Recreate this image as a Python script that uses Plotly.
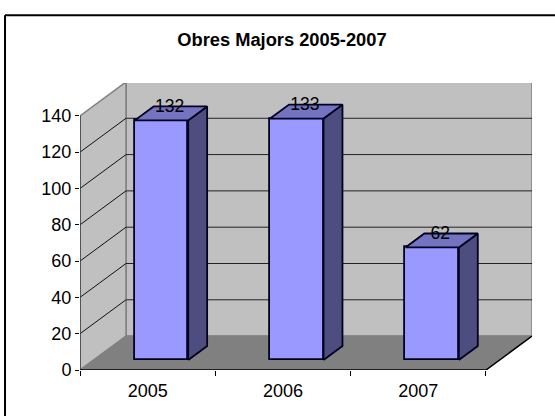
import plotly.graph_objects as go

title = "Obres Majors 2005-2007"
categories = ["2005", "2006", "2007"]
values = [132, 133, 62]
y_ticks = [0, 20, 40, 60, 80, 100, 120, 140]

FONT = "Liberation Sans"
FRONT, TOP, SIDE = "#9999FF", "#7373BF", "#4D4D80"
WALL, FLOOR, EDGE = "#C0C0C0", "#808080", "#808080"

# chart geometry in data units
DX, DY = 0.34, 18.67        # depth of the floor
BOX, BOY = 0.102, 5.5       # where the bar's front sits inside the depth
SX, SY = 0.14, 7.7          # depth of a bar
WIDTH = 0.395
XL, XR = -0.5, 2.5
YMAX = max(y_ticks)
idx = list(range(len(categories)))


def poly(pts):
    return "M" + " L".join(f"{x},{y}" for x, y in pts) + " Z"


shapes = [
    # back wall, side wall, floor
    dict(type="path", path=poly([(XL + DX, DY), (XR + DX, DY), (XR + DX, YMAX + DY), (XL + DX, YMAX + DY)]),
         fillcolor=WALL, line=dict(color=EDGE, width=1.5), layer="below", xref="x", yref="y"),
    dict(type="path", path=poly([(XL, 0), (XL + DX, DY), (XL + DX, YMAX + DY), (XL, YMAX)]),
         fillcolor=WALL, line=dict(color=EDGE, width=1.5), layer="below", xref="x", yref="y"),
    dict(type="path", path=poly([(XL, 0), (XR, 0), (XR + DX, DY), (XL + DX, DY)]),
         fillcolor=FLOOR, line=dict(color=EDGE, width=1), layer="below", xref="x", yref="y"),
]
for t in y_ticks[1:-1]:
    shapes.append(dict(type="line", x0=XL + DX, x1=XR + DX, y0=t + DY, y1=t + DY, xref="x", yref="y",
                       line=dict(color="#222222", width=1), layer="below"))
    shapes.append(dict(type="line", x0=XL, x1=XL + DX, y0=t, y1=t + DY, xref="x", yref="y",
                       line=dict(color="#111111", width=1), layer="below"))
# outer frame: only left and top are visible
shapes.append(dict(type="line", xref="paper", yref="paper", x0=-0.1659, x1=-0.1659, y0=-0.2, y1=1.236,
                   line=dict(color="#000000", width=2), layer="above"))
shapes.append(dict(type="line", xref="paper", yref="paper", x0=-0.1659, x1=1.06, y0=1.236, y1=1.236,
                   line=dict(color="#000000", width=2), layer="above"))

fig = go.Figure()
fig.add_trace(go.Bar(
    x=[i + BOX for i in idx], y=values, base=[BOY] * len(values), width=WIDTH,
    marker=dict(color=FRONT, line=dict(color="#000020", width=1.8)), showlegend=False, hoverinfo="skip",
))

sx, sy, tx, ty = [], [], [], []
for i, v in zip(idx, values):
    l = i + BOX - WIDTH / 2
    r = i + BOX + WIDTH / 2
    b = BOY
    t = v + BOY
    sx += [r, r + SX, r + SX, r, r, None]
    sy += [b, b + SY, t + SY, t, b, None]
    tx += [l, r, r + SX, l + SX, l, None]
    ty += [t, t, t + SY, t + SY, t, None]
for xs, ys, c in ((sx, sy, SIDE), (tx, ty, TOP)):
    fig.add_trace(go.Scatter(x=xs, y=ys, mode="lines", fill="toself", fillcolor=c,
                             line=dict(color="#000020", width=1.8), showlegend=False, hoverinfo="skip"))

# data labels
fig.add_trace(go.Scatter(
    x=[i + BOX + 0.06 for i in idx], y=[v + BOY + 7.2 for v in values],
    mode="text", text=[str(v) for v in values], textposition="middle center",
    textfont=dict(family=FONT, size=17.5, color="#000000"), cliponaxis=False,
    showlegend=False, hoverinfo="skip",
))
# axis lines
fig.add_trace(go.Scatter(x=[XL, XL], y=[0, YMAX], mode="lines", line=dict(color="#404040", width=1.5),
                         cliponaxis=False, showlegend=False, hoverinfo="skip"))
fig.add_trace(go.Scatter(x=[XL, XR, XR + DX], y=[0, 0, DY], mode="lines", line=dict(color="#000000", width=1.5),
                         cliponaxis=False, showlegend=False, hoverinfo="skip"))

fig.update_layout(
    width=555, height=416,
    margin=dict(l=80, r=23, t=82.5, b=45.5),
    paper_bgcolor="#FFFFFF", plot_bgcolor="#FFFFFF",
    font=dict(family=FONT, color="#000000"),
    bargap=0, shapes=shapes,
    title=dict(text=f"<b>{title}</b>", x=0.508, xanchor="center", xref="container", y=0.905, yanchor="middle",
               font=dict(family=FONT, size=18.3, color="#000000")),
    xaxis=dict(range=[XL, XR + DX], tickmode="array", tickvals=idx, ticktext=categories, ticks="", ticklen=0,
               showgrid=False, zeroline=False, showline=False, ticklabelstandoff=8,
               tickfont=dict(family=FONT, size=18),
               minor=dict(tickmode="array", tickvals=[-0.5, 0.5, 1.5, 2.5], ticks="outside", ticklen=5,
                          tickcolor="#000000", tickwidth=1, showgrid=False)),
    yaxis=dict(range=[0, 158.1], tickmode="array", tickvals=y_ticks, ticks="outside", ticklen=4,
               tickcolor="#000000", tickwidth=1, showgrid=False, zeroline=False, showline=False,
               tickfont=dict(family=FONT, size=18)),
)
fig.write_html("out.html", config=dict(displayModeBar=False),
               post_script="document.body.style.margin='0';document.documentElement.style.overflow='hidden';")
